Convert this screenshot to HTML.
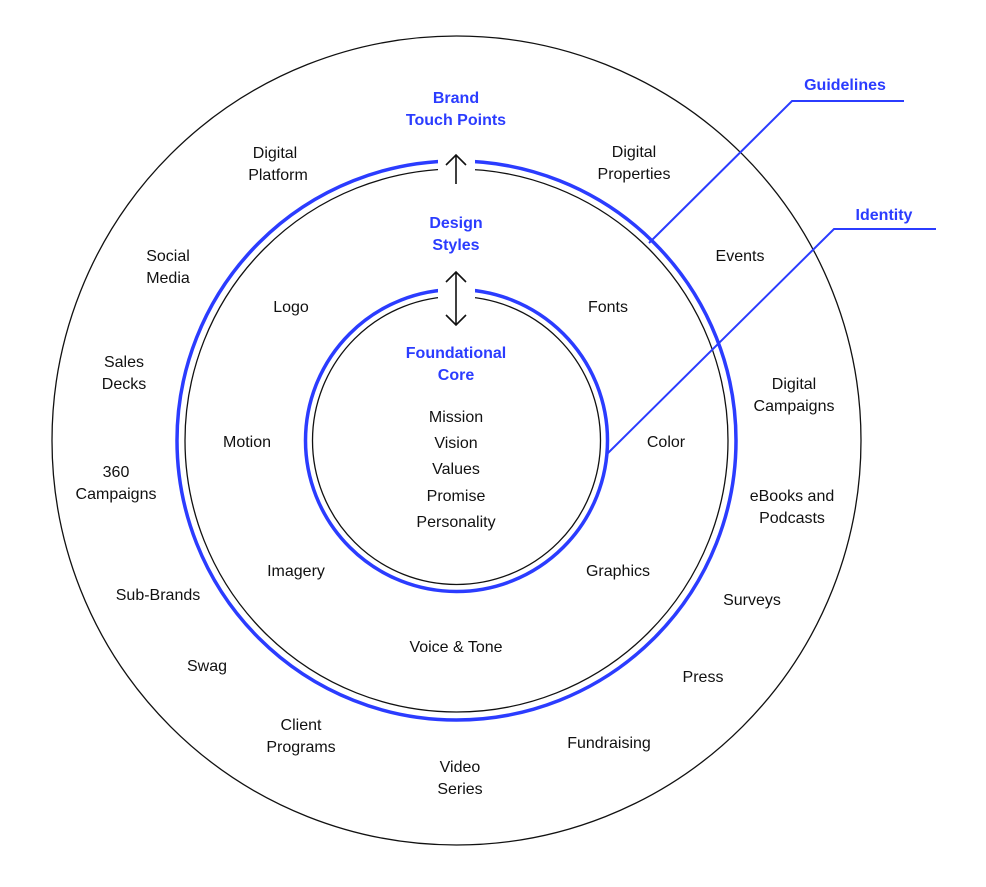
<!DOCTYPE html>
<html><head><style>
body{margin:0;background:#fff}
svg text{font-family:"Liberation Sans",sans-serif;font-size:16px;fill:#111;text-anchor:middle}
svg text.b{fill:#2b3cff;font-weight:bold}
</style></head><body>
<svg width="986" height="882" viewBox="0 0 986 882" xmlns="http://www.w3.org/2000/svg">
<rect width="986" height="882" fill="#fff"/>
<circle cx="456.5" cy="440.5" r="404.5" fill="none" stroke="#111" stroke-width="1.3"/>
<g fill="none">
<circle cx="456.5" cy="440.5" r="279.5" stroke="#2b3cff" stroke-width="3.5"/>
<circle cx="456.5" cy="440.5" r="271.5" stroke="#111" stroke-width="1.3"/>
<circle cx="456.5" cy="440.5" r="151" stroke="#2b3cff" stroke-width="3.5"/>
<circle cx="456.5" cy="440.5" r="144" stroke="#111" stroke-width="1.3"/>
</g>
<rect x="438" y="155" width="37" height="30" fill="#fff"/>
<rect x="438" y="283" width="37" height="30" fill="#fff"/>
<g stroke="#111" stroke-width="1.6" fill="none">
<path d="M456 184V155M446 165L456 155L466 165"/>
<path d="M456 272V325M446 282L456 272L466 282M446 315L456 325L466 315"/>
</g>
<g stroke="#2b3cff" stroke-width="2" fill="none">
<path d="M649 243L792 101H904"/>
<path d="M606 455L834 229H936"/>
</g>
<text class="b" x="456" y="103">Brand</text>
<text class="b" x="456" y="125">Touch Points</text>
<text class="b" x="456" y="228">Design</text>
<text class="b" x="456" y="250">Styles</text>
<text class="b" x="456" y="358">Foundational</text>
<text class="b" x="456" y="380">Core</text>
<text class="b" x="845" y="90">Guidelines</text>
<text class="b" x="884" y="220">Identity</text>
<text x="456" y="422">Mission</text>
<text x="456" y="448">Vision</text>
<text x="456" y="474">Values</text>
<text x="456" y="501">Promise</text>
<text x="456" y="527">Personality</text>
<text x="291" y="312">Logo</text>
<text x="608" y="312">Fonts</text>
<text x="247" y="447">Motion</text>
<text x="666" y="447">Color</text>
<text x="296" y="576">Imagery</text>
<text x="618" y="576">Graphics</text>
<text x="456" y="652">Voice &amp; Tone</text>
<text x="275" y="158">Digital</text>
<text x="278" y="180">Platform</text>
<text x="634" y="157">Digital</text>
<text x="634" y="179">Properties</text>
<text x="168" y="261">Social</text>
<text x="168" y="283">Media</text>
<text x="740" y="261">Events</text>
<text x="124" y="367">Sales</text>
<text x="124" y="389">Decks</text>
<text x="794" y="389">Digital</text>
<text x="794" y="411">Campaigns</text>
<text x="116" y="477">360</text>
<text x="116" y="499">Campaigns</text>
<text x="792" y="501">eBooks and</text>
<text x="792" y="523">Podcasts</text>
<text x="158" y="600">Sub-Brands</text>
<text x="752" y="605">Surveys</text>
<text x="207" y="671">Swag</text>
<text x="703" y="682">Press</text>
<text x="301" y="730">Client</text>
<text x="301" y="752">Programs</text>
<text x="609" y="748">Fundraising</text>
<text x="460" y="772">Video</text>
<text x="460" y="794">Series</text>
</svg>
</body></html>
